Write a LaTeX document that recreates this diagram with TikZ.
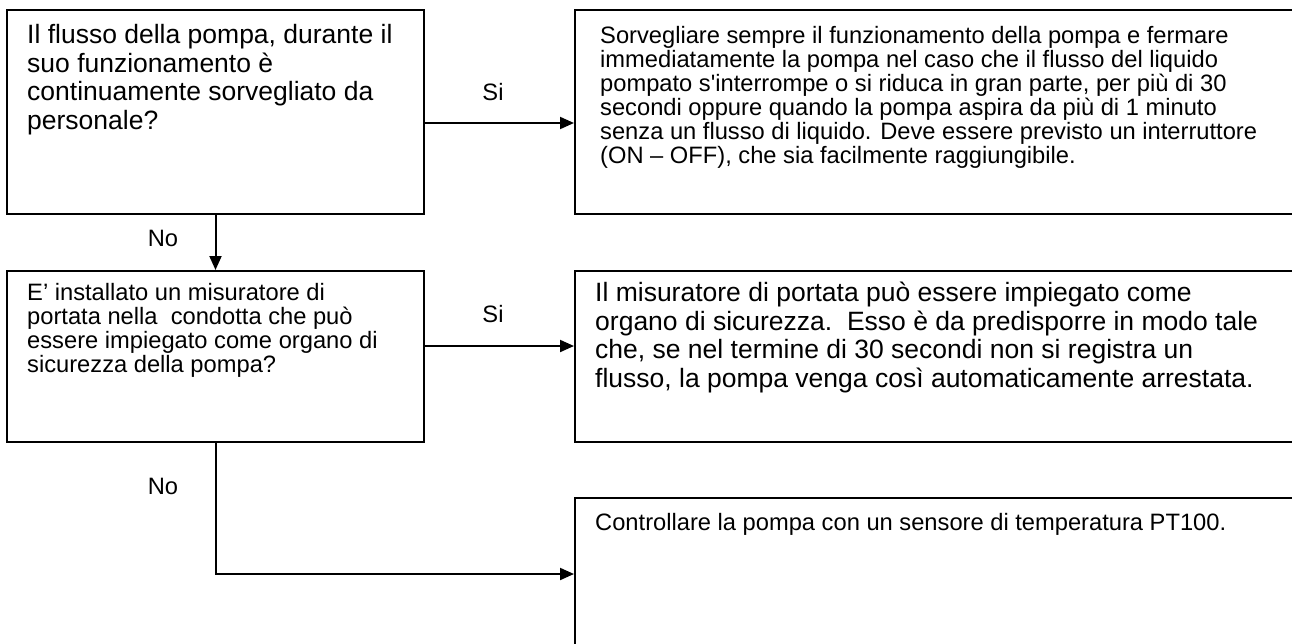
\documentclass[tikz,border=0pt]{standalone}
\usepackage{fontspec}
\setmainfont{Liberation Sans}
\usetikzlibrary{arrows.meta,calc}
\begin{document}
\begin{tikzpicture}[x=1pt,y=-1pt,
  box/.style={draw=black, line width=2pt, rectangle, anchor=north west, inner sep=0pt},
  conn/.style={draw=black, line width=2pt, -{Triangle[length=14pt,width=12pt]}},
  bigtxt/.style={font=\fontsize{26.5}{28.5}\selectfont, align=left, anchor=north west, inner sep=0pt},
  smalltxt/.style={font=\fontsize{23.7}{24}\selectfont, align=left, anchor=north west, inner sep=0pt},
  lbl/.style={font=\fontsize{23.7}{24}\selectfont, inner sep=0pt}]
\useasboundingbox (0,0) rectangle (1292,643);
\clip (0,0) rectangle (1292,643);
\fill[white] (0,0) rectangle (1292,643);
% boxes
\node[box, minimum width=417pt, minimum height=204pt] (b1) at (6,9) {};
\node[box, minimum width=740pt, minimum height=204pt] (b2) at (574,9) {};
\node[box, minimum width=417pt, minimum height=171pt] (b3) at (6,270) {};
\node[box, minimum width=740pt, minimum height=171pt] (b4) at (574,270) {};
\node[box, minimum width=740pt, minimum height=203pt] (b5) at (574,497) {};
% texts
\node[bigtxt] (t1) at (27,24.5) {Il flusso della pompa, durante il\\suo funzionamento è\\continuamente sorvegliato da\\personale?};
\node[smalltxt] (t2) at (600,26) {Sorvegliare sempre il funzionamento della pompa e fermare\\immediatamente la pompa nel caso che il flusso del liquido\\pompato s\textquotesingle interrompe o si riduca in gran parte, per più di 30\\secondi oppure quando la pompa aspira da più di 1 minuto\\senza un flusso di liquido. Deve essere previsto un interruttore\\(ON – OFF), che sia facilmente raggiungibile.};
\node[smalltxt] (t3) at (27,283) {E’ installato un misuratore di\\portata nella\ \ condotta che può\\essere impiegato come organo di\\sicurezza della pompa?};
\node[bigtxt] (t4) at (595,282) {Il misuratore di portata può essere impiegato come\\organo di sicurezza.\ \ Esso è da predisporre in modo tale\\che, se nel termine di 30 secondi non si registra un\\flusso, la pompa venga così automaticamente arrestata.};
\node[smalltxt] (t5) at (595,513) {Controllare la pompa con un sensore di temperatura PT100.};
% connectors
\draw[conn] ([yshift=-11pt]b1.east) -- ([yshift=-11pt]b2.west);
\draw[conn] (b1.south) -- (b3.north);
\draw[conn] ([yshift=10.5pt]b3.east) -- ([yshift=10.5pt]b4.west);
\draw[conn] (b3.south) |- ([yshift=25.5pt]b5.west);
% labels
\node[lbl] (l1) at (493,92) {Si};
\node[lbl] (l2) at (163,238) {No};
\node[lbl] (l3) at (493,314) {Si};
\node[lbl] (l4) at (163,486) {No};
\end{tikzpicture}
\end{document}
